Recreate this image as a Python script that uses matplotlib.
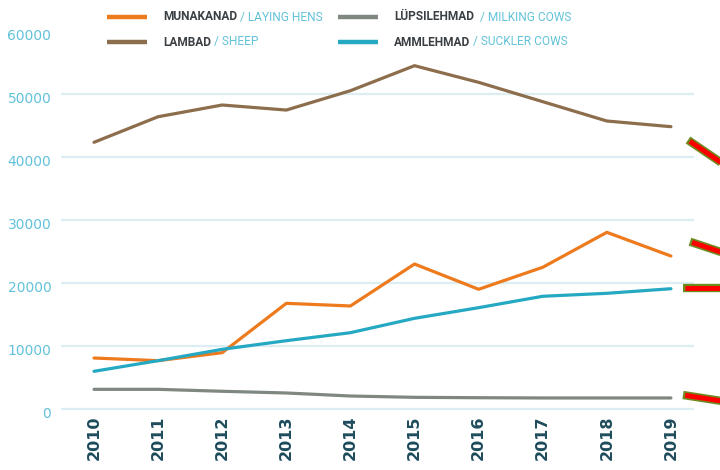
"""Kariloomade arv 2010-2019 (munakanad, lambad, lüpsilehmad, ammlehmad)."""
import matplotlib
matplotlib.use('Agg')
import matplotlib.pyplot as plt
from matplotlib import font_manager
from matplotlib.lines import Line2D
from matplotlib.transforms import ScaledTranslation

aastad = [2010, 2011, 2012, 2013, 2014, 2015, 2016, 2017, 2018, 2019]
munakanad = [8140, 7720, 8990, 16820, 16400, 23060, 19050, 22540, 28090, 24330]
lambad = [42380, 46440, 48300, 47500, 50570, 54540, 51900, 48830, 45760, 44860]
lypsilehmad = [3170, 3170, 2860, 2590, 2110, 1900, 1840, 1800, 1800, 1800]
ammlehmad = [6030, 7720, 9520, 10890, 12160, 14440, 16130, 17940, 18410, 19140]
y_ticks = [0, 10000, 20000, 30000, 40000, 50000, 60000]

# legend: (eesti nimi, inglise nimi, värv)
legend_rows = [
    ('MUNAKANAD', ' / LAYING HENS', '#EE7A1E'),
    ('LAMBAD', ' / SHEEP', '#8C6D4C'),
    ('LÜPSILEHMAD', '  / MILKING COWS', '#7F8880'),
    ('AMMLEHMAD', ' / SUCKLER COWS', '#25A9C2'),
]

C_HENS, C_SHEEP, C_MILK, C_SUCK = '#EE7A1E', '#8C6D4C', '#7F8880', '#25A9C2'
C_TICK = '#62C2DA'
C_GRID = '#DCEEF4'
C_XLAB = '#1E4C5C'
C_DARK = '#3A3F44'

names = {f.name for f in font_manager.fontManager.ttflist}
LEG_FONT = 'Liberation Sans Narrow' if 'Liberation Sans Narrow' in names else 'Roboto'

W, H = 720, 470
fig = plt.figure(figsize=(W / 100, H / 100), dpi=100)

def px(x, y):
    return x / W, 1 - y / H

# ylim -1500..60000 -> 0 at y=409.3, 60000 at y=31.3
ax_l, ax_r = 61, 694
ax_top, ax_bot = 31.3, 418.75
ax = fig.add_axes([ax_l / W, 1 - ax_bot / H, (ax_r - ax_l) / W, (ax_bot - ax_top) / H])

lw = 2.3
ax.plot(aastad, lambad, color=C_SHEEP, lw=lw, zorder=3, solid_capstyle='round')
ax.plot(aastad, munakanad, color=C_HENS, lw=lw, zorder=3, solid_capstyle='round')
ax.plot(aastad, lypsilehmad, color=C_MILK, lw=lw, zorder=3, solid_capstyle='round')
ax.plot(aastad, ammlehmad, color=C_SUCK, lw=lw, zorder=4, solid_capstyle='round')

ax.set_xlim(2009.485, 2019.36)
ax.set_ylim(-1500, 60000)
ax.set_xticks(aastad)
ax.set_xticklabels([str(a) for a in aastad], rotation=90, fontsize=11.5,
                   fontweight='bold', color=C_XLAB)
ax.set_yticks(y_ticks)
ax.set_yticklabels([str(v) for v in y_ticks], fontsize=10, color=C_TICK)
ax.tick_params(length=0)
ax.tick_params(axis='y', pad=7)
ax.tick_params(axis='x', pad=-2)
shift = ScaledTranslation(0, -3 / 100, fig.dpi_scale_trans)
for lab in ax.get_yticklabels():
    lab.set_transform(lab.get_transform() + shift)
ax.grid(axis='y', color=C_GRID, lw=1.6, zorder=0)
ax.yaxis.get_gridlines()[-1].set_visible(False)
for s in ax.spines.values():
    s.set_visible(False)
ax.set_facecolor('none')

# legend käsitsi (kahes veerus)
pos = [(107, 17), (107, 42), (338, 17), (338, 42)]
for (est, eng, col), (x0, y0) in zip(legend_rows, pos):
    fig.add_artist(Line2D([px(x0, y0)[0], px(x0 + 40, y0)[0]], [px(x0, y0)[1]] * 2,
                          color=col, lw=3.2, solid_capstyle='butt'))
    t = fig.text(*px(x0 + 56, y0), est, fontsize=8.6, fontweight='bold',
                 color=C_DARK, family=LEG_FONT, va='center', ha='left')
    ax.annotate(eng, xy=(1, 0.5), xycoords=t, va='center', ha='left',
                fontsize=8.6, color=C_TICK, family=LEG_FONT)

# lõigatud noolemärgid paremal serval
marks = [((688, 140), (732, 170)), ((690, 241.7), (732, 255.7)),
         ((683, 288.3), (732, 288.3)), ((683, 395), (732, 402.6))]
for (x0, y0), (x1, y1) in marks:
    fig.add_artist(Line2D([px(x0, y0)[0], px(x1, y1)[0]], [px(x0, y0)[1], px(x1, y1)[1]],
                          color='#6E8B1E', lw=6.0, solid_capstyle='butt'))
    dx, dy = x1 - x0, y1 - y0
    n = (dx ** 2 + dy ** 2) ** 0.5
    xs, ys = x0 + 2.2 * dx / n, y0 + 2.2 * dy / n
    fig.add_artist(Line2D([px(xs, ys)[0], px(x1, y1)[0]], [px(xs, ys)[1], px(x1, y1)[1]],
                          color='#FF0000', lw=3.6, solid_capstyle='butt'))

plt.savefig('out.png', dpi=100, facecolor='white')
plt.close()
